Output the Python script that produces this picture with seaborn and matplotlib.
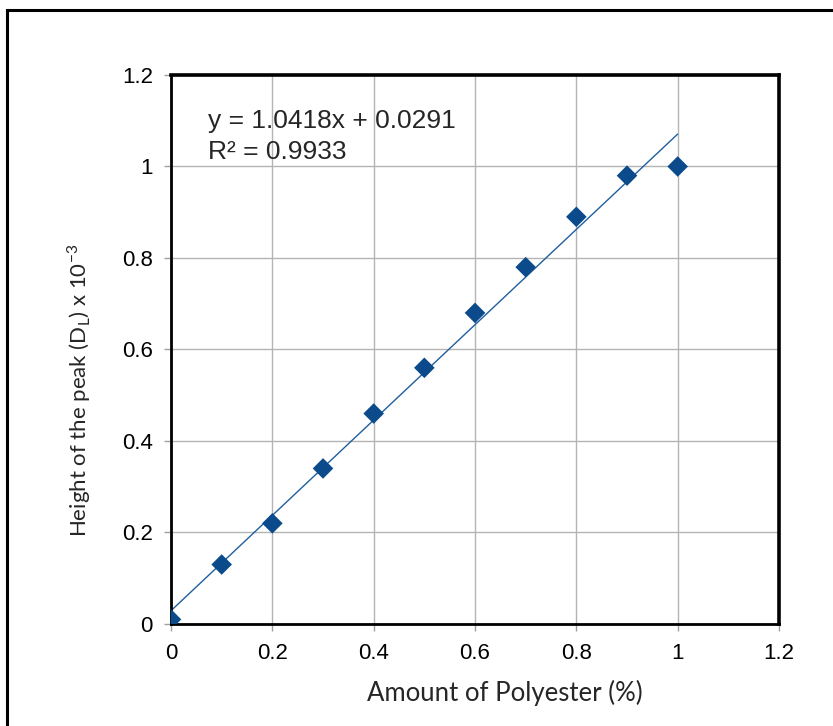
import numpy as np
import pandas as pd
import matplotlib
matplotlib.use("Agg")
import matplotlib.pyplot as plt
from matplotlib.patches import Rectangle
import seaborn as sns

# Measured peak heights against polyester content
polyester_pct = [0.0, 0.1, 0.2, 0.3, 0.4, 0.5, 0.6, 0.7, 0.8, 0.9, 1.0]
peak_height = [0.01, 0.13, 0.22, 0.34, 0.46, 0.56, 0.68, 0.78, 0.89, 0.98, 1.0]

# Linear trendline coefficients
slope = 1.0418
intercept = 0.0291
r_squared = 0.9933
trend_x = [0.0, 1.0]

axis_ticks = [0, 0.2, 0.4, 0.6, 0.8, 1, 1.2]
tick_labels = ["0", "0.2", "0.4", "0.6", "0.8", "1", "1.2"]

sns.set_theme(style="white")
plt.rcParams["font.family"] = ["Liberation Sans", "DejaVu Sans"]

df = pd.DataFrame({"x": polyester_pct, "y": peak_height})
trend = pd.DataFrame({"x": trend_x,
                      "y": [slope * v + intercept for v in trend_x]})

fig = plt.figure(figsize=(8.33, 7.26), dpi=100)
ax = fig.add_axes([0.2053, 0.1405, 0.7299, 0.7562])

# outer chart frame
fig.patches.append(Rectangle((0.0084, -0.05), 1.2, 0.9862 + 0.05,
                             transform=fig.transFigure, fill=False,
                             edgecolor="black", linewidth=2.2, zorder=0))

ax.grid(True, color="#b4b4b4", linewidth=1.0)
ax.set_axisbelow(True)

sns.lineplot(data=trend, x="x", y="y", ax=ax, color="#1f5f9f",
             linewidth=1.0, zorder=2)
sns.scatterplot(data=df, x="x", y="y", ax=ax, marker="D", s=110,
                color="#0B4A8B", edgecolor="none", zorder=3)

ax.set_xlim(0, 1.2)
ax.set_ylim(0, 1.2)
ax.set_xticks(axis_ticks)
ax.set_xticklabels(tick_labels)
ax.set_yticks(axis_ticks)
ax.set_yticklabels(tick_labels)
ax.tick_params(axis="both", which="major", direction="out", length=5,
               width=1, color="#a0a0a0", labelsize=16, labelcolor="black")
ax.tick_params(axis="x", bottom=True, pad=9)
ax.tick_params(axis="y", left=True, pad=8)

for side in ["top", "right"]:
    ax.spines[side].set_linewidth(2.6)
    ax.spines[side].set_color("black")
for side in ["left", "bottom"]:
    ax.spines[side].set_linewidth(2.0)
    ax.spines[side].set_color("black")

ax.set_xlabel("")
ax.set_ylabel("")
fig.text(0.606, 0.0455, "Amount of Polyester (%)", fontsize=18.5,
         family=["Lato", "DejaVu Sans"], ha="center", va="center")
fig.text(0.0948, 0.4628,
         r"Height of the peak (D$_\mathregular{L}$) x 10$^\mathregular{-3}$",
         fontsize=16, family=["Lato", "DejaVu Sans"], rotation=90,
         ha="center", va="center")

ax.text(0.073, 1.0995, f"y = {slope:.4f}x + {intercept:.4f}", fontsize=19,
        ha="left", va="center")
ax.text(0.073, 1.0317, f"R² = {r_squared:.4f}", fontsize=19,
        ha="left", va="center")

fig.savefig("out.png", dpi=100)
